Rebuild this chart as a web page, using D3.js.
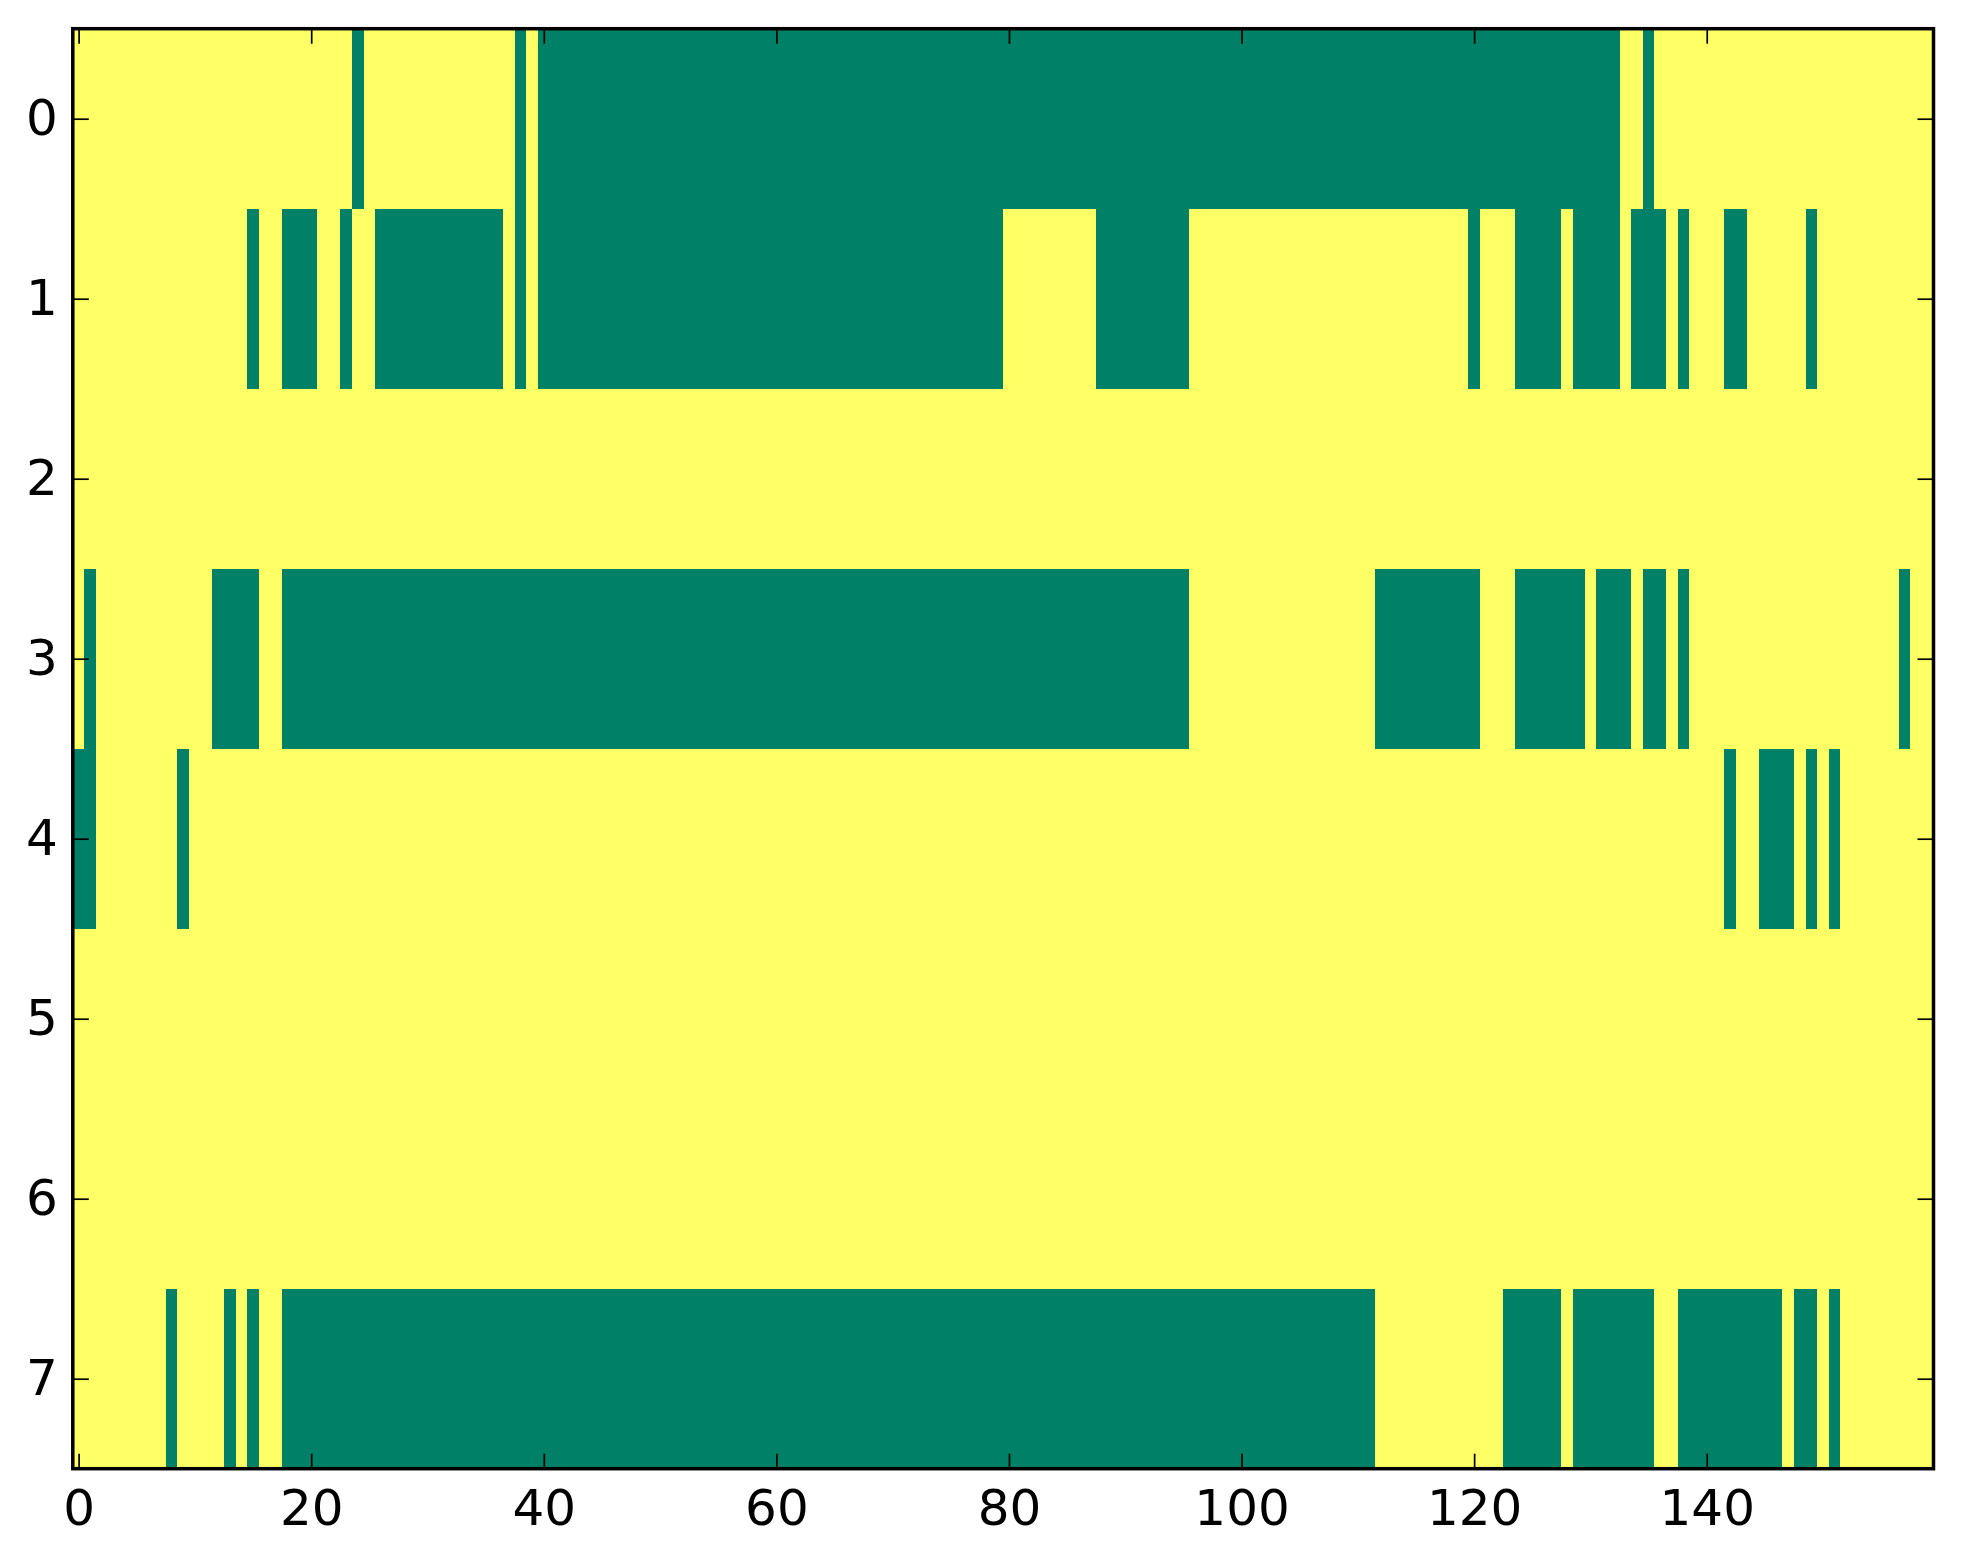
<!DOCTYPE html>
<html>
<head>
<meta charset="utf-8">
<script src="https://cdn.jsdelivr.net/npm/d3@7"></script>
<style>
    body { margin: 0; background: #fff; }
    .axis text { font-family: "DejaVu Sans", sans-serif; font-size: 50px; fill: #000; }
    .axis line { stroke: #000; stroke-width: 1.7px; }
</style>
</head>
<body>
<div id="chart"></div>
<script>
// number of columns / rows in the image
var nCols = 160;
var rows = [0, 1, 2, 3, 4, 5, 6, 7];

// green runs per row, as [first column, last column]
var row0 = [[24, 24], [38, 38], [40, 132], [135, 135]];
var row1 = [[15, 15], [18, 20], [23, 23], [26, 36], [38, 38], [40, 79], [88, 95], [120, 120],
            [124, 127], [129, 132], [134, 136], [138, 138], [142, 143], [149, 149]];
var row2 = [];
var row3 = [[1, 1], [12, 15], [18, 95], [112, 120], [124, 129], [131, 133], [135, 136],
            [138, 138], [157, 157]];
var row4 = [[0, 1], [9, 9], [142, 142], [145, 147], [149, 149], [151, 151]];
var row5 = [];
var row6 = [];
var row7 = [[8, 8], [13, 13], [15, 15], [18, 111], [123, 127], [129, 135], [138, 146],
            [148, 149], [151, 151]];

var xTicks = [0, 20, 40, 60, 80, 100, 120, 140];
var yTicks = [0, 1, 2, 3, 4, 5, 6, 7];

function init() {
    var w = 1963;
    var h = 1564;
    var left = 72.8, right = 1933.5, top = 28.7, bottom = 1468.7;

    var runs = [row0, row1, row2, row3, row4, row5, row6, row7];

    // expand runs into cells (1 = green, 0 = yellow)
    var cells = [];
    rows.forEach(function (r) {
        for (var c = 0; c < nCols; c++) {
            var on = runs[r].some(function (s) { return c >= s[0] && c <= s[1]; });
            cells.push({ row: r, col: c, v: on ? 1 : 0 });
        }
    });

    var xScale = d3.scaleLinear()
        .domain([-0.5, nCols - 0.5])
        .range([left, right]);

    var yScale = d3.scaleLinear()
        .domain([-0.5, rows.length - 0.5])
        .range([top, bottom]);

    var color = d3.scaleOrdinal()
        .domain([0, 1])
        .range(["#ffff66", "#008066"]);

    var svg = d3.select("#chart")
        .append("svg")
        .attr("width", w)
        .attr("height", h);

    // image cells
    svg.append("g")
        .attr("shape-rendering", "crispEdges")
        .selectAll("rect")
        .data(cells)
        .enter()
        .append("rect")
        .attr("x", function (d) { return xScale(d.col - 0.5); })
        .attr("y", function (d) { return yScale(d.row - 0.5); })
        .attr("width", function (d) { return xScale(d.col + 0.5) - xScale(d.col - 0.5) + 0.6; })
        .attr("height", function (d) { return yScale(d.row + 0.5) - yScale(d.row - 0.5) + 0.6; })
        .attr("fill", function (d) { return color(d.v); });

    // axes, ticks pointing inward like matplotlib classic
    var xAxis = d3.axisBottom(xScale).tickValues(xTicks).tickSizeInner(-15).tickSizeOuter(0).tickPadding(21);
    var xAxisTop = d3.axisTop(xScale).tickValues(xTicks).tickSizeInner(-15).tickSizeOuter(0).tickFormat("");
    var yAxis = d3.axisLeft(yScale).tickValues(yTicks).tickSizeInner(-16).tickSizeOuter(0).tickPadding(15);
    var yAxisRight = d3.axisRight(yScale).tickValues(yTicks).tickSizeInner(-16).tickSizeOuter(0).tickFormat("");

    svg.append("g").attr("class", "axis")
        .attr("transform", "translate(0," + bottom + ")")
        .call(xAxis);
    svg.append("g").attr("class", "axis")
        .attr("transform", "translate(0," + top + ")")
        .call(xAxisTop);
    svg.append("g").attr("class", "axis")
        .attr("transform", "translate(" + left + ",0)")
        .call(yAxis);
    svg.append("g").attr("class", "axis")
        .attr("transform", "translate(" + right + ",0)")
        .call(yAxisRight);

    svg.selectAll(".axis .domain").remove();

    // frame
    svg.append("rect")
        .attr("x", left)
        .attr("y", top)
        .attr("width", right - left)
        .attr("height", bottom - top)
        .attr("fill", "none")
        .attr("stroke", "#000")
        .attr("stroke-width", 3.5);
}

window.onload = init;
</script>
</body>
</html>
